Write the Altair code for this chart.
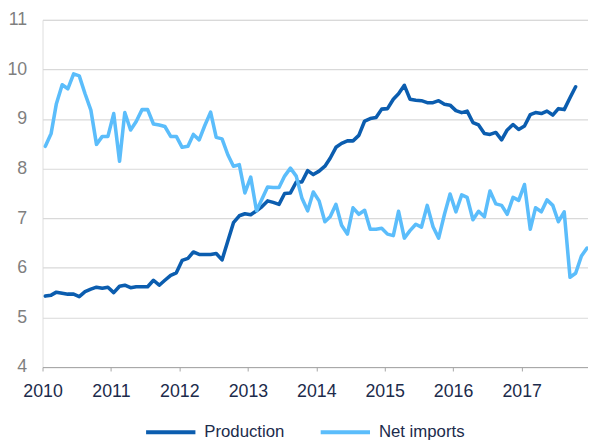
import altair as alt
import pandas as pd

# Monthly values, Jan 2010 onward (plotted at mid-month)
production = [
    5.43, 5.45, 5.51, 5.49, 5.47, 5.47, 5.42, 5.52, 5.57, 5.61, 5.59, 5.61,
    5.50, 5.63, 5.65, 5.60, 5.62, 5.62, 5.62, 5.75, 5.65, 5.75, 5.85, 5.90,
    6.15, 6.19, 6.32, 6.27, 6.27, 6.27, 6.29, 6.16, 6.54, 6.91, 7.05, 7.09,
    7.07, 7.15, 7.23, 7.35, 7.32, 7.28, 7.50, 7.51, 7.73, 7.73, 7.96, 7.88,
    7.95, 8.05, 8.21, 8.43, 8.51, 8.56, 8.56, 8.67, 8.96, 9.01, 9.03, 9.20,
    9.21, 9.40, 9.51, 9.68, 9.40, 9.38, 9.37, 9.33, 9.33, 9.37, 9.30, 9.28,
    9.17, 9.13, 9.16, 8.93, 8.88, 8.71, 8.69, 8.73, 8.58, 8.78, 8.89, 8.79,
    8.86, 9.09, 9.13, 9.11, 9.16, 9.08, 9.21, 9.19, 9.43, 9.65,
]
net_imports = [
    8.45, 8.71, 9.31, 9.69, 9.61, 9.91, 9.87, 9.51, 9.18, 8.49, 8.65, 8.65,
    9.11, 8.15, 9.13, 8.78, 8.95, 9.19, 9.19, 8.90, 8.88, 8.85, 8.65, 8.65,
    8.43, 8.45, 8.69, 8.58, 8.87, 9.14, 8.63, 8.60, 8.28, 8.05, 8.08, 7.51,
    7.83, 7.15, 7.38, 7.63, 7.62, 7.62, 7.85, 8.01, 7.85, 7.41, 7.15, 7.53,
    7.35, 6.93, 7.03, 7.28, 6.86, 6.68, 7.21, 7.08, 7.16, 6.78, 6.78, 6.80,
    6.68, 6.65, 7.14, 6.60, 6.75, 6.88, 6.82, 7.26, 6.83, 6.60, 7.08, 7.49,
    7.13, 7.47, 7.42, 6.97, 7.14, 7.03, 7.55, 7.29, 7.26, 7.08, 7.42, 7.36,
    7.68, 6.78, 7.21, 7.13, 7.37, 7.26, 6.93, 7.13, 5.81, 5.89, 6.24, 6.40,
]
series_names = ["Production", "Net imports"]
series_colors = ["#0B5DAF", "#5BBDFB"]
year_ticks = list(range(2010, 2018))
y_ticks = [4, 5, 6, 7, 8, 9, 10, 11]

months = pd.date_range("2010-01-01", periods=len(net_imports), freq="MS")
month_str = [m.strftime("%Y-%m-16T00:00:00") for m in months]

rows = []
for i, v in enumerate(production):
    rows.append({"date": month_str[i], "value": v, "series": "Production"})
for i, v in enumerate(net_imports):
    rows.append({"date": month_str[i], "value": v, "series": "Net imports"})
df = pd.DataFrame(rows)

navy = "#1C2B4B"
gray = "#7F7F7F"

chart = alt.Chart(df).mark_line(strokeWidth=3.6, strokeJoin="round", strokeCap="round").encode(
    x=alt.X(
        "date:T",
        scale=alt.Scale(domain=[alt.DateTime(year=2010, month=1, date=1),
                                alt.DateTime(year=2017, month=12, date=21)]),
        axis=alt.Axis(
            values=[alt.DateTime(year=y, month=1, date=1) for y in year_ticks],
            format="%Y", grid=False, title=None,
            labelColor=navy, labelFontSize=18, labelFont="Liberation Sans",
            labelPadding=12, domainColor="#A6A6A6", tickColor="#A6A6A6",
            tickSize=4, labelFlush=False,
        ),
    ),
    y=alt.Y(
        "value:Q",
        scale=alt.Scale(domain=[4, 11], nice=False, zero=False),
        axis=alt.Axis(
            values=y_ticks, title=None, domain=False, ticks=False, tickSize=0,
            labelColor=gray, labelFontSize=18, labelFont="Liberation Sans",
            labelPadding=16, gridColor="#D9D9D9", gridWidth=1.2,
        ),
    ),
    color=alt.Color(
        "series:N",
        scale=alt.Scale(domain=series_names, range=series_colors),
        sort=series_names,
        legend=alt.Legend(
            title=None, orient="none", direction="horizontal",
            legendX=103, legendY=391,
            symbolType="stroke", symbolSize=2500, symbolStrokeWidth=4,
            labelFontSize=17, labelFont="Liberation Sans", labelColor=navy,
            labelOffset=7, columnPadding=28,
        ),
    ),
).properties(
    width=553,
    height=352,
    autosize=alt.AutoSizeParams(type="none"),
    padding={"left": 35, "top": 9, "right": 0, "bottom": 75},
).configure_view(stroke=None).configure(font="Liberation Sans")

chart.save("out.html", embed_options={"renderer": "svg", "actions": False})
